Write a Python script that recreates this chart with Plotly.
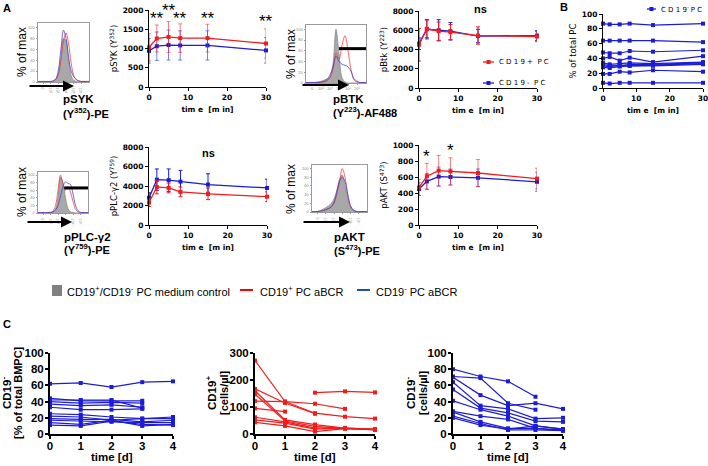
import plotly.graph_objects as go

W, H = 708, 466

# ---- panel A: phospho-flow time courses (mean, SD), time in min ----
t_min = [0, 2, 5, 8, 15, 30]

syk_pos = [1030, 1260, 1300, 1270, 1270, 1130]
syk_pos_sd = [350, 350, 400, 370, 360, 380]
syk_neg = [940, 1060, 1090, 1080, 1080, 950]
syk_neg_sd = [320, 370, 390, 380, 380, 330]

btk_pos = [4500, 6150, 5900, 5800, 5450, 5350]
btk_pos_sd = [1700, 900, 950, 800, 900, 500]
btk_neg = [4600, 6100, 6000, 5900, 5400, 5450]
btk_neg_sd = [600, 1000, 1100, 900, 700, 500]

plc_pos = [2300, 3900, 3800, 3400, 3200, 2900]
plc_pos_sd = [400, 700, 500, 500, 600, 500]
plc_neg = [2800, 4650, 4600, 4450, 4150, 3800]
plc_neg_sd = [500, 1100, 1150, 1150, 1100, 900]

akt_pos = [470, 610, 680, 670, 650, 580]
akt_pos_sd = [100, 160, 190, 170, 170, 130]
akt_neg = [450, 545, 605, 600, 590, 540]
akt_neg_sd = [80, 100, 120, 100, 110, 120]

# ---- flow histograms (% of max per channel) ----
hist_ch = list(range(21))
h1_ctrl = [0, 0, 0, 0, 0, 0, 1, 4, 15, 45, 80, 75, 40, 12, 3, 1, 0, 0, 0, 0, 0]
h1_pos = [1, 1, 1, 1, 1, 1, 2, 5, 14, 40, 75, 90, 70, 35, 12, 4, 2, 1, 1, 1, 1]
h1_neg = [1, 1, 1, 1, 1, 1, 2, 6, 22, 60, 95, 80, 45, 20, 10, 5, 2, 1, 1, 1, 1]

h2_ctrl = [0, 0, 0, 1, 2, 3, 5, 8, 12, 35, 100, 55, 10, 2, 0, 0, 0, 0, 0, 0, 0]
h2_pos = [1, 1, 1, 1, 1, 1, 2, 4, 10, 25, 55, 45, 70, 88, 60, 25, 6, 2, 1, 1, 1]
h2_neg = [1, 1, 1, 1, 1, 2, 3, 6, 15, 30, 50, 40, 35, 33, 30, 22, 8, 3, 1, 1, 1]
h2_gate = ([11, 20], [64, 64])

h3_ctrl = [0, 0, 0, 0, 0, 1, 3, 10, 40, 95, 80, 40, 12, 3, 1, 0, 0, 0, 0, 0, 0]
h3_pos = [1, 1, 1, 1, 1, 2, 5, 20, 60, 100, 75, 60, 70, 55, 30, 10, 3, 1, 1, 1, 1]
h3_neg = [1, 1, 1, 1, 1, 1, 3, 8, 20, 45, 70, 82, 78, 75, 50, 20, 6, 2, 1, 1, 1]
h3_gate = ([10.5, 20], [66, 66])

h4_ctrl = [0, 0, 1, 3, 6, 10, 14, 20, 30, 50, 75, 85, 60, 30, 10, 3, 1, 0, 0, 0, 0]
h4_pos = [1, 1, 1, 2, 4, 6, 8, 12, 20, 40, 70, 100, 80, 40, 12, 4, 1, 1, 1, 1, 1]
h4_neg = [1, 1, 1, 2, 3, 5, 8, 12, 22, 45, 70, 80, 70, 40, 15, 5, 2, 1, 1, 1, 1]

# ---- panel B: CD19- PC % of total PC per donor ----
b_donors = [
    [87, 86, 86, 87, 85, 87],
    [64, 64, 64, 64, 64, 62],
    [48, 47, 47, 50, 49, 51],
    [40, 42, 37, 41, 35, 43],
    [34, 32, 33, 34, 33, 35],
    [32, 30, 30, 32, 32, 34],
    [30, 29, 31, 30, 31, 33],
    [28, 27, 29, 30, 30, 32],
    [19, 19, 22, 21, 24, 22],
    [7, 6, 7, 7, 7, 7],
]

# ---- panel C: culture over days ----
days = [0, 1, 2, 3, 4]
c_pct_neg = [
    [62, 63, 58, 64, 65],
    [44, 41, 41, 41, None],
    [42, 42, 42, 32, None],
    [40, 38, 39, 38, None],
    [37, 35, 36, 33, None],
    [33, 30, 30, 31, None],
    [25, 24, 21, 19, 21],
    [22, 21, 17, 19, 19],
    [19, 18, 18, 15, 17],
    [17, 16, 15, 14, 14],
    [14, 12, 17, 10, 12],
    [11, 10, 16, 12, 11],
]
c_cells_pos = [
    [272, 120, 77, 64, 57],
    [167, 115, 75, None, None],
    [122, 120, 112, 93, None],
    [95, 83, None, None, None],
    [160, 52, 35, 22, 17],
    [147, 48, 28, 20, 18],
    [62, 45, 22, 23, 16],
    [52, 40, 18, 21, 15],
    [43, 30, 9, 20, 16],
    [None, None, 153, 158, 154],
]
c_cells_neg = [
    [80, 71, 65, 46, None],
    [71, 69, 38, 30, None],
    [70, 48, 35, 38, 31],
    [64, 35, 31, 19, 20],
    [55, 32, 26, 16, 15],
    [41, 30, 22, 10, 6],
    [28, 22, 18, 7, 5],
    [27, 15, 7, 7, 4],
    [22, 13, 5, 5, 4],
    [20, 11, 6, 10, 6],
]

RED = "#f21c1c"
BLUE = "#1c1cd6"
RED_EB = "rgba(242,28,28,0.55)"
BLUE_EB = "rgba(28,28,214,0.55)"
FONT = "Liberation Sans"
TICKFONT = "DejaVu Sans"


def xd(a, b):
    return [a / W, b / W]


def yd(top, bottom):
    return [1 - bottom / H, 1 - top / H]


def ref(i):
    return ("x", "y") if i == 1 else (f"x{i}", f"y{i}")


def key(i):
    return ("xaxis", "yaxis") if i == 1 else (f"xaxis{i}", f"yaxis{i}")


fig = go.Figure()
layout = {}

small_font = dict(family=TICKFONT, size=7.5, color="black", weight="bold")
axA = dict(showline=True, linecolor="black", linewidth=1, ticks="outside", ticklen=3,
           tickwidth=1, tickcolor="black", showgrid=False, zeroline=False,
           tickfont=small_font, fixedrange=True, automargin=False)
axC = dict(showline=True, linecolor="black", linewidth=2, ticks="outside", ticklen=3,
           tickwidth=2, tickcolor="black", showgrid=False, zeroline=False,
           tickfont=dict(family=FONT, size=11.5, color="black", weight="bold"),
           fixedrange=True, automargin=False)
ytitle_font = dict(family=TICKFONT, size=8.5, color="black")


def time_panel(i, dom_x, dom_y, ymax, dtick, ytitle, pos, pos_sd, neg, neg_sd, eb_alpha):
    xr, yr = ref(i)
    for vals, sd, col, ebc in [(neg, neg_sd, BLUE, BLUE_EB if eb_alpha else BLUE),
                               (pos, pos_sd, RED, RED_EB if eb_alpha else RED)]:
        fig.add_trace(go.Scatter(
            x=t_min, y=vals, xaxis=xr, yaxis=yr, mode="lines+markers",
            line=dict(color=col, width=1.3), marker=dict(color=col, size=4, symbol="square"),
            error_y=dict(type="data", array=sd, color=ebc, thickness=1, width=2),
            cliponaxis=False, showlegend=False))
    kx, ky = key(i)
    layout[kx] = dict(axA, domain=dom_x, range=[0, 30], tickvals=[0, 10, 20, 30], anchor=yr,
                      title=dict(text="tim e  [m in]", font=small_font, standoff=5))
    layout[ky] = dict(axA, domain=dom_y, range=[0, ymax], dtick=dtick, anchor=xr,
                      title=dict(text=ytitle, font=ytitle_font, standoff=3))


time_panel(1, xd(149, 266), yd(10, 87), 2000, 500, "pSYK (Y<sup>352</sup>)",
           syk_pos, syk_pos_sd, syk_neg, syk_neg_sd, True)
time_panel(2, xd(419, 537), yd(11, 88), 8000, 2000, "pBtk (Y<sup>223</sup>)",
           btk_pos, btk_pos_sd, btk_neg, btk_neg_sd, False)
time_panel(4, xd(149, 267), yd(147, 225), 8000, 2000, "pPLC-γ2 (Y<sup>759</sup>)",
           plc_pos, plc_pos_sd, plc_neg, plc_neg_sd, False)
time_panel(5, xd(419, 537), yd(145, 225), 1000, 200, "pAKT (S<sup>473</sup>)",
           akt_pos, akt_pos_sd, akt_neg, akt_neg_sd, True)

# ---- panel B ----
for d in b_donors:
    fig.add_trace(go.Scatter(
        x=t_min, y=d, xaxis="x3", yaxis="y3", mode="lines+markers", showlegend=False,
        line=dict(color=BLUE, width=1.2), marker=dict(color=BLUE, size=4, symbol="square"),
        cliponaxis=False))
layout["xaxis3"] = dict(axA, domain=xd(603, 703), range=[0, 30], tickvals=[0, 10, 20, 30], anchor="y3",
                        ticklabeloverflow="allow",
                        title=dict(text="tim e  [m in]", font=small_font, standoff=5))
layout["yaxis3"] = dict(axA, domain=yd(14, 88), range=[0, 100], dtick=20, anchor="x3",
                        title=dict(text="% of total PC", font=ytitle_font, standoff=3))

# ---- panel C ----
c_specs = [
    (6, xd(50, 173), c_pct_neg, BLUE, 100, 20),
    (7, xd(255, 375), c_cells_pos, RED, 300, 100),
    (8, xd(453, 563), c_cells_neg, BLUE, 100, 20),
]
for i, dom_x, series, col, ymax, dtick in c_specs:
    xr, yr = ref(i)
    for d in series:
        fig.add_trace(go.Scatter(
            x=days, y=d, xaxis=xr, yaxis=yr, mode="lines+markers", showlegend=False,
            line=dict(color=col, width=1.2), marker=dict(color=col, size=4, symbol="square"),
            cliponaxis=False))
    kx, ky = key(i)
    layout[kx] = dict(axC, domain=dom_x, range=[0, 4], dtick=1, anchor=yr, ticklabelstandoff=-3)
    layout[ky] = dict(axC, domain=yd(353, 434), range=[0, ymax], dtick=dtick, anchor=xr,
                      ticklabelstandoff=-1)

# ---- flow histograms ----
for i, dom_x, dom_y, ctrl, pos, neg, gate in [
    (9, xd(38, 89), yd(23, 82), h1_ctrl, h1_pos, h1_neg, None),
    (10, xd(306, 366), yd(25, 83), h2_ctrl, h2_pos, h2_neg, h2_gate),
    (11, xd(38, 88), yd(172, 213), h3_ctrl, h3_pos, h3_neg, h3_gate),
    (12, xd(312, 367), yd(165, 212), h4_ctrl, h4_pos, h4_neg, None),
]:
    xr, yr = ref(i)
    fig.add_trace(go.Scatter(x=hist_ch, y=ctrl, xaxis=xr, yaxis=yr, mode="lines", fill="tozeroy",
                             fillcolor="#a8a8a8", line=dict(color="#8a8a8a", width=0.8, shape="spline"),
                             showlegend=False))
    fig.add_trace(go.Scatter(x=hist_ch, y=pos, xaxis=xr, yaxis=yr, mode="lines",
                             line=dict(color="rgba(240,60,60,0.85)", width=0.9, shape="spline"),
                             showlegend=False))
    fig.add_trace(go.Scatter(x=hist_ch, y=neg, xaxis=xr, yaxis=yr, mode="lines",
                             line=dict(color="rgba(60,60,220,0.85)", width=0.9, shape="spline"),
                             showlegend=False))
    if gate:
        fig.add_trace(go.Scatter(x=gate[0], y=gate[1], xaxis=xr, yaxis=yr, mode="lines",
                                 line=dict(color="black", width=3), showlegend=False, cliponaxis=False))
    kx, ky = key(i)
    hax = dict(showline=True, mirror=True, linecolor="#9a9a9a", linewidth=0.8, ticks="outside",
               ticklen=1.5, tickcolor="#9a9a9a", showgrid=False, zeroline=False,
               tickfont=dict(size=4, color="#888"), fixedrange=True, automargin=False)
    layout[kx] = dict(hax, domain=dom_x, range=[0, 20], tickvals=[2, 5, 8, 11, 14, 17],
                      ticktext=["0", "10²", "10³", "10⁴", "10⁵", "10⁶"], anchor=yr)
    layout[ky] = dict(hax, domain=dom_y, range=[0, 108], tickvals=[0, 20, 40, 60, 80, 100], anchor=xr)

ann = []
shapes = []


def txt(x, y, s, size=11, bold=False, xanchor="left", angle=0, color="black", family=FONT):
    ann.append(dict(x=x / W, y=1 - y / H, xref="paper", yref="paper", text=s, showarrow=False,
                    xanchor=xanchor, yanchor="middle", textangle=angle,
                    font=dict(family=family, size=size, color=color, weight="bold" if bold else "normal")))


def arrow(x_tip, y, length):
    ann.append(dict(x=x_tip / W, y=1 - y / H, xref="paper", yref="paper", text="", showarrow=True,
                    ax=-length, ay=0, arrowhead=2, arrowsize=1.1, arrowwidth=2, arrowcolor="black"))


def hline(x0, x1, y, color, width=2):
    shapes.append(dict(type="line", xref="paper", yref="paper", x0=x0 / W, x1=x1 / W,
                       y0=1 - y / H, y1=1 - y / H, line=dict(color=color, width=width)))


def sq(xc, yc, color, r=2):
    shapes.append(dict(type="rect", xref="paper", yref="paper", x0=(xc - r) / W, x1=(xc + r) / W,
                       y0=1 - (yc + r) / H, y1=1 - (yc - r) / H, fillcolor=color, line=dict(width=0)))


# panel letters
txt(1, 8, "A", 11, True)
txt(558, 7, "B", 11, True)
txt(1, 324, "C", 11, True)

# histogram labels
for x, y in [(22, 52), (291, 54), (22, 192), (291, 189)]:
    txt(x, y, "% of max", 12, False, "center", -90)
arrow(74, 86, 46)
arrow(349, 85, 48)
arrow(72, 222, 46)
arrow(350, 222, 48)
txt(61, 99, "pSYK", 11.5, True)
txt(61, 113, "(Y<sup>352</sup>)-PE", 11, True)
txt(331, 99, "pBTK", 11.5, True)
txt(331, 112, "(Y<sup>223</sup>)-AF488", 11, True)
txt(62, 237, "pPLC-γ2", 11.5, True)
txt(62, 249, "(Y<sup>759</sup>)-PE", 11, True)
txt(332, 237, "pAKT", 11.5, True)
txt(332, 250, "(S<sup>473</sup>)-PE", 11, True)

# significance marks
for t, yv in [(2, 1790), (5, 1990), (8, 1790), (15, 1770), (30, 1700)]:
    ann.append(dict(x=t, y=yv, xref="x", yref="y", text="**", showarrow=False,
                    font=dict(family=FONT, size=17, color="black"), yanchor="middle"))
for t, yv in [(2, 860), (8, 930)]:
    ann.append(dict(x=t, y=yv, xref="x5", yref="y5", text="*", showarrow=False,
                    font=dict(family=FONT, size=17, color="black"), yanchor="middle"))
txt(480, 9, "ns", 11, True, "center")
txt(208, 153, "ns", 11, True, "center")

# pBTK inset key
hline(483, 494, 62, RED, 1.3)
sq(488.5, 62, RED)
txt(497, 62, "C D 1 9 +  P C", 7, family=TICKFONT)
hline(483, 494, 83, BLUE, 1.3)
sq(488.5, 83, BLUE)
txt(497, 83, "C D 1 9 -  P C", 7, family=TICKFONT)

# panel B key
hline(647, 656, 9, BLUE, 1.3)
sq(651.5, 9, BLUE)
txt(659, 9, "C D 1 9<sup>-</sup> P C", 7, family=TICKFONT)

# panel C axis titles
for xc, title in [(112, "time [d]"), (315, "time [d]"), (508, "time [d]")]:
    txt(xc, 457, title, 11.5, True, "center")
for x1, x2, l1, l2 in [(6, 18, "CD19<sup>-</sup>", "[% of total BMPC]"),
                       (211, 224, "CD19<sup>+</sup>", "[cells/µl]"),
                       (410, 423, "CD19<sup>-</sup>", "[cells/µl]")]:
    txt(x1, 393, l1, 11.5, True, "center", -90)
    txt(x2, 393, l2, 11, True, "center", -90)

# bottom legend of panel A
shapes.append(dict(type="rect", xref="paper", yref="paper", x0=52 / W, x1=62 / W,
                   y0=1 - 296 / H, y1=1 - 285 / H, fillcolor="#808080", line=dict(width=0)))
hline(240, 253, 290, "#ff0000")
hline(357, 370, 290, "#1f4fbf")
txt(65, 291, "CD19<sup>+</sup>/CD19<sup>-</sup> PC medium control", 11)
txt(258, 291, "CD19<sup>+</sup> PC aBCR", 11)
txt(374, 291, "CD19<sup>-</sup> PC aBCR", 11)

layout.update(
    width=W, height=H, margin=dict(l=0, r=0, t=0, b=0, autoexpand=False),
    paper_bgcolor="white", plot_bgcolor="white",
    font=dict(family=FONT, color="black"),
    annotations=ann, shapes=shapes, showlegend=False,
)
fig.update_layout(layout)
# drop the browser's default body margin so the 708x466 figure fills the window
fig.write_html("out.html", config={"displayModeBar": False},
               post_script="document.body.style.margin='0';document.body.style.padding='0';")
